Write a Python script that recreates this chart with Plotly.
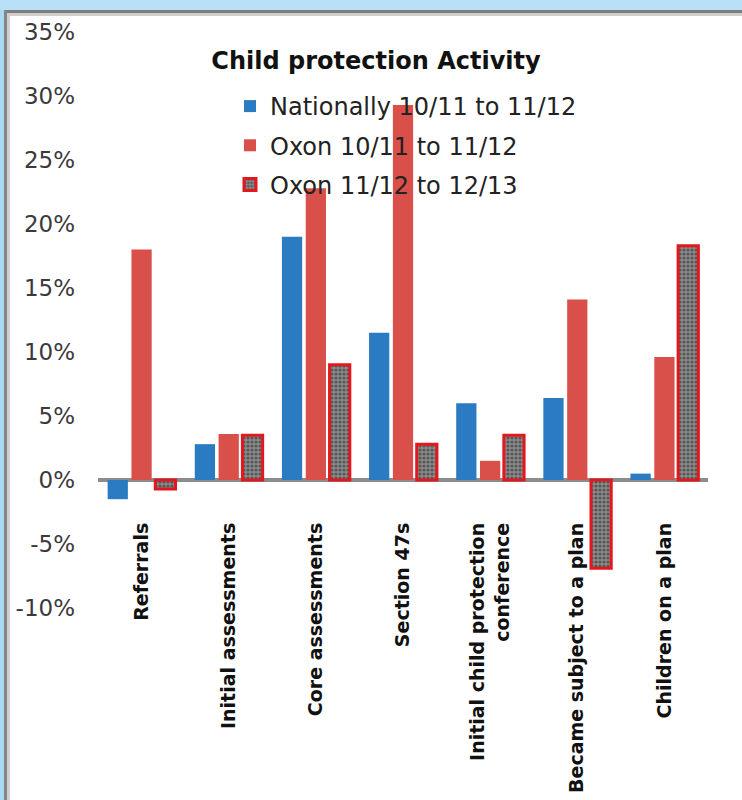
import plotly.graph_objects as go

categories = ["Referrals", "Initial assessments", "Core assessments", "Section 47s",
              "Initial child protection<br>conference", "Became subject to a plan",
              "Children on a plan"]
series_names = ["Nationally 10/11 to 11/12", "Oxon 10/11 to 11/12", "Oxon 11/12 to 12/13"]
nationally = [-1.5, 2.8, 19.0, 11.5, 6.0, 6.4, 0.5]
oxon_1011 = [18.0, 3.6, 22.8, 29.3, 1.5, 14.1, 9.6]
oxon_1112 = [-0.7, 3.5, 9.0, 2.8, 3.5, -6.9, 18.3]
y_ticks = [35, 30, 25, 20, 15, 10, 5, 0, -5, -10]
y_tick_labels = ["35%", "30%", "25%", "20%", "15%", "10%", "5%", "0%", "-5%", "-10%"]

W, H = 742, 800
ML, MR, MT, MB = 98, 34, 32, 192
PW, PH = W - ML - MR, H - MT - MB
YMIN, YMAX = -10, 35

def px_x(p):
    return (p - ML) / PW

def px_y(p):
    return (H - MB - p) / PH

fig = go.Figure()
fig.add_trace(go.Bar(x=categories, y=nationally, name=series_names[0], legendgroup="a",
                     marker=dict(color="#2b7bc2", line=dict(width=0))))
fig.add_trace(go.Bar(x=categories, y=oxon_1011, name=series_names[1], legendgroup="b",
                     marker=dict(color="#d9504a", line=dict(width=0))))
fig.add_trace(go.Bar(x=categories, y=oxon_1112, name=series_names[2], legendgroup="c",
                     marker=dict(color="#7a7a7a",
                                 line=dict(width=3, color="#e3171e"),
                                 pattern=dict(shape=".", size=4, solidity=0.5,
                                              fgcolor="#222222", bgcolor="#8c8c8c"))))

zero_pos = (0 - YMIN) / (YMAX - YMIN)

shapes = [
    # window frame: light blue top band and left strip, grey borders
    dict(type="rect", xref="paper", yref="paper", x0=px_x(0), x1=px_x(W), y0=px_y(10), y1=px_y(0),
         fillcolor="#b8e0f6", line=dict(width=0)),
    dict(type="rect", xref="paper", yref="paper", x0=px_x(4), x1=px_x(W), y0=px_y(13), y1=px_y(10),
         fillcolor="#7d7d7d", line=dict(width=0)),
    dict(type="rect", xref="paper", yref="paper", x0=px_x(6), x1=px_x(W), y0=px_y(16), y1=px_y(13),
         fillcolor="#cfcfcf", line=dict(width=0)),
    dict(type="rect", xref="paper", yref="paper", x0=px_x(0), x1=px_x(4), y0=px_y(H), y1=px_y(10),
         fillcolor="#a8daf4", line=dict(width=0)),
    dict(type="rect", xref="paper", yref="paper", x0=px_x(4), x1=px_x(7), y0=px_y(H), y1=px_y(10),
         fillcolor="#858585", line=dict(width=0)),
    dict(type="rect", xref="paper", yref="paper", x0=px_x(7), x1=px_x(10), y0=px_y(H), y1=px_y(13),
         fillcolor="#d0d0d0", line=dict(width=0)),
]

fig.update_layout(
    width=W, height=H,
    margin=dict(l=ML, r=MR, t=MT, b=MB, autoexpand=False),
    paper_bgcolor="white", plot_bgcolor="white",
    barmode="group", bargap=0.18, bargroupgap=0.15,
    title=dict(text="<b>Child protection Activity</b>", x=px_x(376), xref="paper", xanchor="center",
               y=1 - 61 / H, yref="container", yanchor="middle",
               font=dict(family="DejaVu Sans", size=24, color="#111111")),
    font=dict(family="DejaVu Sans", color="#333333"),
    legend=dict(x=px_x(230), y=px_y(84), xanchor="left", yanchor="top",
                bgcolor="rgba(0,0,0,0)", borderwidth=0, itemwidth=30,
                traceorder="grouped", tracegroupgap=5,
                font=dict(family="DejaVu Sans", size=24, color="#222222")),
    yaxis=dict(range=[YMIN, YMAX], tickvals=y_ticks, ticktext=y_tick_labels,
               showgrid=False, showline=False, zeroline=True,
               zerolinecolor="#8c8c8c", zerolinewidth=3.5,
               tickfont=dict(family="DejaVu Sans", size=23, color="#3a3a3a"),
               ticks="", ticklabelstandoff=22, fixedrange=True),
    xaxis=dict(anchor="free", position=zero_pos, showline=False, showgrid=False,
               ticks="", tickangle=-90,
               tickfont=dict(family="DejaVu Sans", size=19, color="#111111", weight="bold"),
               ticklabelstandoff=38, fixedrange=True),
    shapes=shapes,
    showlegend=True,
)

fig.write_html("out.html")
